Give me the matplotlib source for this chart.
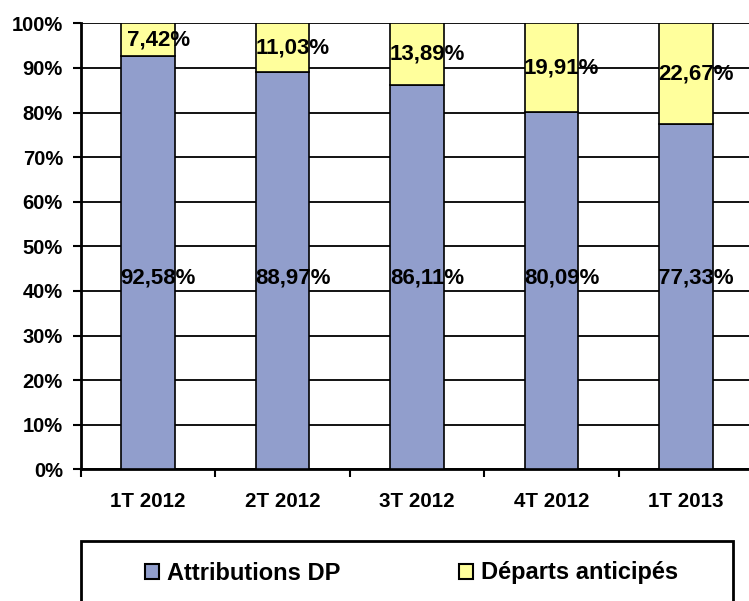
import matplotlib
matplotlib.use("Agg")
import matplotlib.pyplot as plt
from matplotlib.patches import Rectangle, Patch
import numpy as np

plt.rcParams["font.family"] = ["Liberation Sans", "DejaVu Sans"]
plt.rcParams["font.weight"] = "bold"

# ── Data ─────────────────────────────────────────────
quarters = ["1T 2012", "2T 2012", "3T 2012", "4T 2012", "1T 2013"]
attributions = [92.58, 88.97, 86.11, 80.09, 77.33]
departs = [7.42, 11.03, 13.89, 19.91, 22.67]

blue = "#919ECC"
yellow = "#FFFF9C"

fig = plt.figure(figsize=(7.49, 6.01), dpi=100)
ax = fig.add_axes([81 / 749, 1 - 469.3 / 601, 672 / 749, 446 / 601])

x = np.arange(len(quarters))
att = np.array(attributions) / 100
dep = np.array(departs) / 100
ax.bar(x, att, width=0.40, color=blue, edgecolor="black", linewidth=1.2, zorder=3)
ax.bar(x, dep, width=0.40, bottom=att, color=yellow, edgecolor="black",
       linewidth=1.2, zorder=3)

# labels (bottom series sits at a fixed height, top series centred in segment)
for i in range(len(quarters)):
    ax.text(x[i] + 0.075, 0.43, f"{attributions[i]:.2f}%".replace(".", ","),
            ha="center", va="center", fontsize=16, fontweight="bold", zorder=4)
    ax.text(x[i] + 0.075, att[i] + dep[i] / 2, f"{departs[i]:.2f}%".replace(".", ","),
            ha="center", va="center", fontsize=16, fontweight="bold", zorder=4)

ax.set_xlim(-0.5, len(quarters) - 0.5)
ax.set_ylim(0, 1)
ax.set_yticks(np.arange(0, 1.01, 0.1))
ax.set_yticklabels([f"{v}%" for v in range(0, 101, 10)])
ax.yaxis.grid(True, color="black", linewidth=1.3, zorder=0)
ax.set_axisbelow(True)

ax.set_xticks(x)
ax.set_xticklabels(quarters)
ax.set_xticks(np.arange(-0.5, len(quarters), 1), minor=True)
ax.tick_params(axis="x", which="major", length=0, pad=16, labelsize=14.8)
ax.tick_params(axis="x", which="minor", length=6, width=1.5, direction="out")
ax.tick_params(axis="y", length=6, width=1.5, direction="out", pad=7, labelsize=14.5)

for s in ["top", "right"]:
    ax.spines[s].set_visible(False)
ax.spines["left"].set_linewidth(2)
ax.spines["bottom"].set_linewidth(2)

# legend box
fig.add_artist(Rectangle((81 / 749, -0.05), (733 - 81) / 749, 0.05 + 1 - 541 / 601,
                         transform=fig.transFigure, facecolor="white",
                         edgecolor="black", linewidth=2))
handles = [Patch(facecolor=blue, edgecolor="black", linewidth=1.5),
           Patch(facecolor=yellow, edgecolor="black", linewidth=1.5)]
fig.legend(handles, ["Attributions DP", "Départs anticipés"], ncol=2,
           loc="center left", bbox_to_anchor=(145 / 749, 1 - 573 / 601),
           frameon=False, borderpad=0, borderaxespad=0,
           handlelength=0.6, handleheight=0.6, handletextpad=0.35,
           columnspacing=5.0, prop={"size": 17, "weight": "bold"})

fig.savefig("out.png", dpi=100)
